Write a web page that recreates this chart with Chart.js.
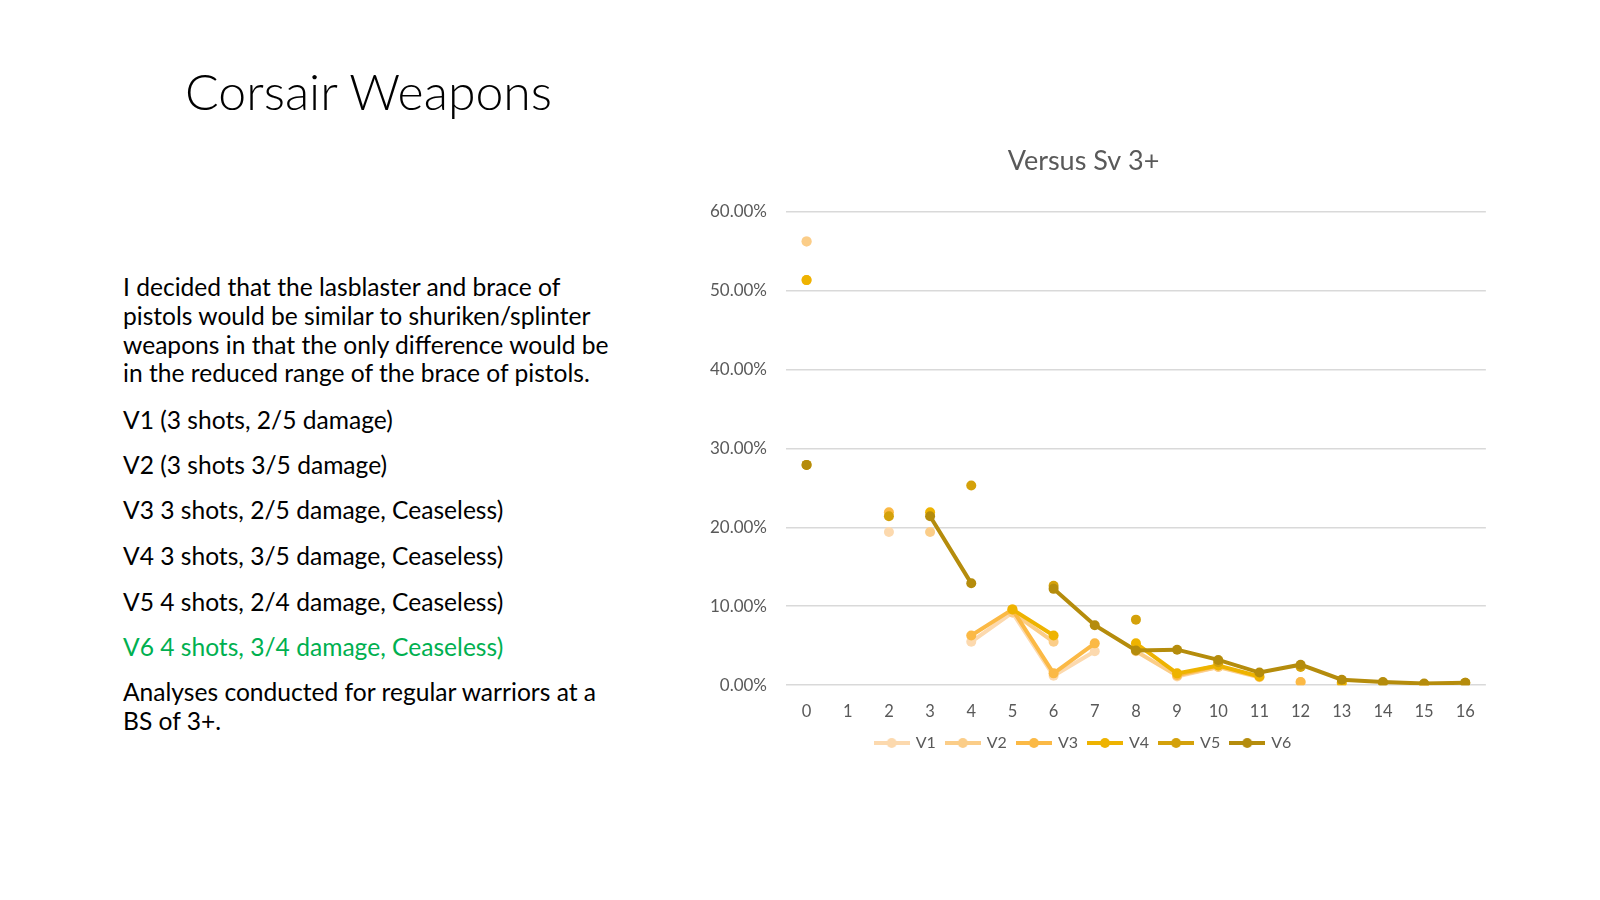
<!DOCTYPE html>
<html>
<head>
<meta charset="utf-8">
<script src="https://cdn.jsdelivr.net/npm/chart.js@4.4.1/dist/chart.umd.min.js"></script>
<style>
  html, body { margin: 0; padding: 0; background: #fff; }
  body { width: 1600px; height: 900px; position: relative; overflow: hidden; font-family: Lato, "Open Sans", sans-serif; }
  .title { position: absolute; left: 185px; top: 66px; font-size: 50px; line-height: 50px; font-weight: 300; color: #000; white-space: nowrap; }
  .p { position: absolute; left: 123px; font-size: 24.6px; line-height: 28.8px; color: #000; white-space: nowrap; }
  .green { color: #00b050; }
  #box { position: absolute; left: 680px; top: 130px; width: 812px; height: 631px; }
</style>
</head>
<body>
<div class="title">Corsair Weapons</div>
<div class="p" style="top:273px">I decided that the lasblaster and brace of<br>pistols would be similar to shuriken/splinter<br>weapons in that the only difference would be<br>in the reduced range of the brace of pistols.</div>
<div class="p" style="top:406px">V1 (3 shots, 2/5 damage)</div>
<div class="p" style="top:451px">V2 (3 shots 3/5 damage)</div>
<div class="p" style="top:496px">V3 3 shots, 2/5 damage, Ceaseless)</div>
<div class="p" style="top:542px">V4 3 shots, 3/5 damage, Ceaseless)</div>
<div class="p" style="top:588px">V5 4 shots, 2/4 damage, Ceaseless)</div>
<div class="p green" style="top:633px">V6 4 shots, 3/4 damage, Ceaseless)</div>
<div class="p" style="top:678px">Analyses conducted for regular warriors at a<br>BS of 3+.</div>
<div id="box"><canvas id="chart"></canvas></div>
<script>
// damage dealt (categories) and chance of each result, in percent
const damage = ['0','1','2','3','4','5','6','7','8','9','10','11','12','13','14','15','16'];
const seriesNames = ['V1', 'V2', 'V3', 'V4', 'V5', 'V6'];
const v1 = [56.2, null, 19.4, null, 5.5, 9.2, 1.2, 4.3, null, 1.1, 2.3, null, 0.4, null, null, 0.1, null];
const v2 = [56.2, null, null, 19.4, null, 9.2, 5.5, null, 4.3, 1.2, 2.3, 1.0, null, 0.2, null, 0.1, null];
const v3 = [51.3, null, 21.9, null, 6.3, 9.6, 1.5, 5.3, null, 1.3, 2.5, null, 0.4, null, null, 0.1, null];
const v4 = [51.3, null, null, 21.9, null, 9.6, 6.3, null, 5.3, 1.5, 2.5, 1.1, null, 0.3, null, 0.1, null];
const v5 = [27.9, null, 21.4, null, 25.3, null, 12.6, null, 8.3, null, 2.9, null, 2.3, null, 0.3, null, 0.3];
const v6 = [27.9, null, null, 21.4, 12.9, null, 12.2, 7.6, 4.4, 4.5, 3.2, 1.6, 2.6, 0.7, 0.4, 0.2, 0.3];
const colors = ['#fcd9ae', '#fbcd88', '#fbb945', '#eeb300', '#d4a10a', '#b58c0c'];

const values = [v1, v2, v3, v4, v5, v6];
const axisGrey = '#595959';

// legend marker: short line with a dot, like the office legend
function legendIcon(color) {
   const c = document.createElement('canvas');
   c.width = 36; c.height = 12;
   const g = c.getContext('2d');
   g.strokeStyle = color; g.lineWidth = 4;
   g.beginPath(); g.moveTo(0, 6); g.lineTo(36, 6); g.stroke();
   g.fillStyle = color;
   g.beginPath(); g.arc(18, 6, 5, 0, Math.PI * 2); g.fill();
   return c;
}
const icons = colors.map(legendIcon);

new Chart(document.getElementById('chart'), {
   type: 'line',
   data: {
      labels: damage,
      datasets: seriesNames.map((name, i) => ({
         label: name,
         data: values[i],
         borderColor: colors[i],
         backgroundColor: colors[i],
         pointBackgroundColor: colors[i],
         pointBorderWidth: 0,
         pointRadius: 5,
         borderWidth: 4,
         spanGaps: false,
         order: seriesNames.length - i
      }))
   },
   options: {
      responsive: true,
      maintainAspectRatio: false,
      animation: false,
      layout: { padding: { right: 5 } },
      scales: {
         x: {
            offset: true,
            grid: { display: false, drawTicks: false },
            border: { display: false },
            ticks: { color: axisGrey, padding: 17, font: { family: 'Lato', size: 16.5 } },
            // labels keep their place, legend sits closer to them
            afterFit: scale => { scale.height -= 15; }
         },
         y: {
            min: 0,
            max: 60,
            afterFit: scale => { scale.width = 106; },
            grid: { color: '#d9d9d9', lineWidth: 1.5, drawTicks: false },
            border: { display: false },
            ticks: {
               stepSize: 10,
               padding: 19,
               color: axisGrey,
               font: { family: 'Lato', size: 17 },
               callback: v => v.toFixed(2) + '%'
            }
         }
      },
      plugins: {
         title: {
            display: true,
            text: 'Versus Sv 3+',
            color: axisGrey,
            font: { family: 'Lato', size: 27, weight: 'normal' },
            padding: { top: 15, bottom: 34 }
         },
         legend: {
            position: 'bottom',
            labels: {
               usePointStyle: true,
               pointStyleWidth: 32,
               padding: 11,
               color: axisGrey,
               font: { family: 'Lato', size: 16 },
               generateLabels(chart) {
                  const items = Chart.defaults.plugins.legend.labels.generateLabels(chart);
                  items.forEach(it => { it.pointStyle = icons[it.datasetIndex]; });
                  return items;
               },
               sort: (a, b) => a.datasetIndex - b.datasetIndex
            }
         },
         tooltip: { enabled: false }
      }
   }
});
</script>
</body>
</html>
